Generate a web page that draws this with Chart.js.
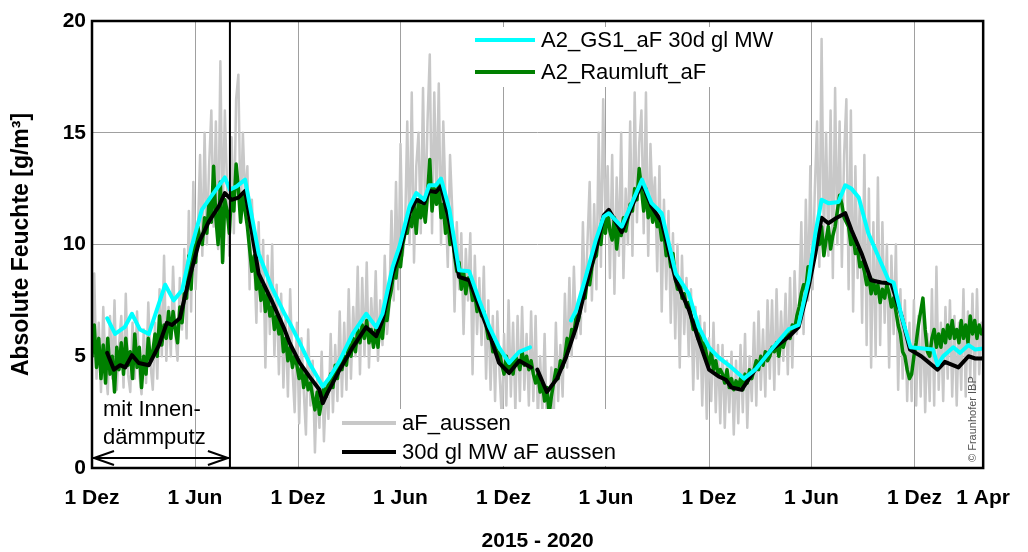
<!DOCTYPE html>
<html>
<head>
<meta charset="utf-8">
<script src="https://cdn.jsdelivr.net/npm/chart.js@4"></script>
<style>
  html, body { margin: 0; padding: 0; background: #fff; }
  canvas { display: block; }
</style>
</head>
<body>
<canvas id="chart" width="1028" height="552"></canvas>
<script>
// x axis = days since 1 Dez 2015
const dayTicks = [0, 183, 366, 548, 731, 913, 1096, 1278, 1461, 1583]
const tickLabels = ['1 Dez', '1 Jun', '1 Dez', '1 Jun', '1 Dez', '1 Jun', '1 Dez', '1 Jun', '1 Dez', '1 Apr']
const yTicks = [0, 5, 10, 15, 20]
const markerDay = 245   // Ende "mit Innendämmputz"

// daily-ish series are read every 4 days (day = i * 4)
const rawStep = 4

// aF_aussen
const grayVals = [
  5.0, 8.7, 4.0, 6.5, 3.4, 7.2, 4.5,
  3.3, 6.8, 4.0, 7.5, 3.5, 5.5, 6.8,
  3.6, 7.8, 4.2, 3.4, 6.5, 4.0, 7.0,
  4.2, 3.3, 6.2, 3.8, 7.4, 4.6, 3.5,
  6.5, 4.0, 8.0, 5.0, 9.5, 4.8, 7.2,
  5.0, 9.0, 6.0, 4.8, 8.5, 6.2, 9.8,
  5.8, 11.5, 7.0, 12.8, 8.0, 10.5, 14.0,
  9.5, 15.0, 10.0, 13.5, 16.0, 10.8, 15.5,
  9.8, 18.2, 11.0, 16.0, 12.5, 9.5, 14.8,
  10.5, 16.5, 17.6, 11.0, 15.0, 12.0, 13.5,
  8.0, 12.0, 9.5, 6.5, 11.0, 7.0, 10.2,
  4.5, 9.5, 6.0, 10.0, 5.0, 8.2, 4.2,
  7.8, 3.6, 6.8, 3.2, 8.0, 4.5, 2.5,
  6.5, 2.0, 5.8, 3.5, 1.5, 6.2, 2.8,
  4.8, 0.7, 4.0, 1.8, 5.2, 1.2, 3.8,
  2.2, 6.0, 2.5, 5.5, 3.0, 7.0, 3.2,
  6.5, 3.5, 8.0, 4.0, 7.2, 5.0, 9.0,
  4.2, 8.5, 5.0, 9.2, 4.5, 7.6, 5.5,
  8.8, 4.8, 7.5, 5.5, 9.5, 6.0, 7.2,
  11.5, 7.5, 12.8, 8.0, 14.5, 9.5, 10.5,
  15.5, 10.0, 16.8, 9.2, 13.5, 15.0, 10.5,
  17.0, 11.0, 15.5, 18.5, 10.5, 16.8, 12.0,
  17.2, 10.0, 15.5, 12.0, 9.0, 14.0, 11.5,
  7.0, 11.0, 8.0, 10.5, 6.0, 9.8, 7.5,
  10.5, 4.2, 9.5, 6.0, 8.5, 5.5, 9.0,
  4.0, 7.5, 3.5, 6.8, 3.0, 7.0, 4.2,
  2.2, 6.0, 2.8, 7.5, 3.2, 6.5, 2.5,
  6.8, 3.0, 7.2, 3.5, 6.0, 2.8, 7.0,
  3.0, 6.8, 2.2, 5.0, 2.5, 6.0, 1.8,
  1.5, 4.5, 2.0, 6.5, 3.0, 5.5, 3.2,
  7.8, 4.5, 8.5, 5.0, 9.0, 5.8, 7.5,
  6.0, 11.0, 7.0, 10.0, 12.8, 7.5, 11.8,
  8.0, 15.0, 9.0, 16.5, 11.0, 13.5, 8.5,
  14.0, 7.8, 13.0, 9.5, 15.0, 8.5, 12.5,
  10.0, 15.5, 9.5, 16.8, 11.0, 14.5, 16.0,
  10.5, 16.8, 9.5, 14.5, 11.5, 13.0, 8.8,
  13.5, 7.0, 12.0, 8.0, 11.5, 6.5, 10.5,
  5.8, 10.0, 4.5, 9.5, 6.0, 8.5, 5.0,
  8.0, 3.5, 7.2, 4.0, 6.8, 2.8, 6.5,
  2.2, 5.8, 3.0, 6.5, 2.5, 5.5, 2.0,
  5.5, 1.8, 4.8, 2.5, 5.2, 1.5, 4.8,
  2.0, 5.5, 2.5, 6.0, 1.8, 5.0, 3.0,
  6.5, 2.8, 7.0, 3.5, 6.2, 3.2, 7.5,
  4.0, 7.5, 3.5, 8.0, 4.2, 7.0, 4.8,
  7.8, 4.2, 8.5, 4.5, 8.8, 6.0, 7.2,
  11.0, 6.0, 12.0, 7.5, 13.5, 8.0, 12.5,
  15.5, 9.0, 19.2, 10.0, 15.0, 9.5, 16.0,
  8.5, 17.0, 10.0, 15.5, 9.0, 14.0, 16.5,
  8.0, 16.0, 7.0, 13.5, 8.5, 12.0, 6.5,
  14.0, 5.5, 12.5, 4.5, 11.0, 5.0, 13.0,
  5.5, 11.0, 6.5, 10.0, 4.5, 9.5, 6.0,
  10.0, 3.5, 8.0, 4.0, 7.5, 3.0, 6.5,
  3.0, 7.5, 2.8, 6.8, 3.2, 7.0, 2.5,
  6.0, 3.0, 8.0, 2.8, 9.0, 3.5, 6.5,
  3.0, 7.2, 4.0, 7.5, 3.2, 6.8, 2.8,
  6.5, 3.5, 8.0, 3.2, 7.0, 4.0, 7.8,
  3.5, 8.0, 4.2, 6.5
]

// A2_Raumluft_aF
const greenVals = [
  5.0, 6.4, 4.5, 5.8, 4.0, 5.5, 3.8,
  5.8, 4.2, 5.0, 3.4, 5.4, 4.4, 5.6,
  4.2, 5.8, 4.6, 5.2, 4.0, 6.0, 4.5,
  5.4, 3.6, 5.0, 4.2, 5.8, 4.8, 5.2,
  6.0, 5.0, 6.8, 5.5, 6.4, 5.8, 7.0,
  5.8, 7.0, 6.2, 5.6, 7.2, 6.5, 7.8,
  7.6, 9.5, 8.0, 10.0, 9.2, 10.8, 10.2,
  10.0, 11.2, 10.5, 12.0, 11.0, 13.5, 11.2,
  10.0, 12.8, 9.2, 12.0, 11.5, 10.5, 12.5,
  11.5, 13.6, 12.5, 11.0, 12.2, 11.5, 10.8,
  9.8, 8.8, 9.5, 8.0, 8.6, 7.5, 8.2,
  7.0, 7.8, 6.8, 7.2, 6.2, 6.8, 6.0,
  6.5, 5.2, 5.8, 4.8, 5.4, 4.5, 5.0,
  4.6, 4.0, 4.5, 3.6, 4.2, 3.5, 3.8,
  3.2, 2.6, 3.4, 2.4, 3.0, 3.6, 3.2,
  3.8, 4.2, 3.6, 4.6, 4.0, 4.8, 4.4,
  5.0, 4.6, 5.6, 5.0, 5.8, 5.2, 6.2,
  5.6, 6.4, 5.8, 6.6, 5.6, 6.2, 5.4,
  6.2, 5.4, 6.6, 5.8, 7.0, 6.6, 7.5,
  8.0, 8.8, 8.5, 9.5, 9.0, 10.0, 10.5,
  10.5, 11.2, 10.8, 11.8, 10.5, 12.0, 11.2,
  11.8, 11.0, 12.2, 13.8, 11.5, 12.5, 11.8,
  12.8, 11.2, 11.8, 10.5, 11.2, 10.0, 10.5,
  9.5, 8.8, 9.2, 8.0, 8.8, 7.8, 8.5,
  8.2, 7.5, 7.8, 7.0, 7.4, 6.8, 7.0,
  6.4, 5.8, 6.0, 5.2, 5.6, 5.0, 5.2,
  4.6, 4.2, 5.0, 4.4, 4.8, 4.2, 5.0,
  4.8, 4.4, 5.2, 4.6, 5.0, 4.4, 4.8,
  4.2, 3.8, 4.2, 3.4, 3.8, 3.0, 3.6,
  2.4, 3.2, 3.8, 4.4, 4.0, 4.8, 4.5,
  5.0, 5.8, 5.4, 6.2, 6.0, 6.8, 6.6,
  7.2, 8.0, 7.6, 8.5, 8.2, 9.0, 9.4,
  9.5, 10.5, 10.0, 11.2, 10.5, 11.5, 10.6,
  10.2, 11.2, 9.8, 10.8, 10.4, 11.2, 10.6,
  11.2, 11.8, 11.5, 12.5, 12.0, 13.4, 12.5,
  11.5, 12.5, 11.2, 11.8, 11.0, 11.6, 10.8,
  11.0, 10.2, 10.5, 9.5, 9.8, 9.0, 9.6,
  8.5, 8.0, 8.4, 7.6, 7.8, 7.2, 7.4,
  6.8, 6.2, 6.6, 5.8, 6.0, 5.4, 5.6,
  5.0, 4.6, 5.2, 4.4, 4.8, 4.2, 4.4,
  4.2, 3.8, 4.4, 3.6, 4.0, 3.5, 3.9,
  3.6, 4.0, 3.5, 4.2, 3.8, 4.4, 4.0,
  4.4, 4.8, 4.4, 5.0, 4.6, 5.2, 4.8,
  5.0, 5.4, 5.2, 5.6, 5.0, 5.8, 5.4,
  5.8, 6.0, 5.8, 6.4, 6.2, 6.8, 7.2,
  7.8, 8.2, 8.0, 9.0, 8.8, 9.6, 10.2,
  10.6, 10.0, 10.8, 9.5, 10.2, 10.8, 9.8,
  10.4, 10.8, 11.5, 12.2, 11.8, 11.2, 11.0,
  10.8, 10.0, 10.4, 9.6, 9.8, 9.0, 9.2,
  8.8, 8.2, 8.6, 7.8, 8.4, 7.8, 8.2,
  7.4, 8.0, 7.6, 8.2, 7.8, 7.2, 7.6,
  7.0, 6.4, 6.0, 5.2, 5.0, 4.4, 4.0,
  4.2, 5.0, 5.6, 6.4, 7.0, 7.6, 6.2,
  5.2, 5.0, 5.8, 6.2, 5.4, 6.0, 5.4,
  6.2, 5.6, 6.4, 5.8, 6.6, 5.8, 6.2,
  5.6, 6.6, 5.8, 6.4, 5.6, 6.8, 6.0,
  6.6, 5.8, 6.4, 6.0
]

// 30d gl MW aF aussen
const blackDays = [27, 39, 50, 59, 71, 83, 101, 119, 133, 142, 156, 172, 190, 207, 225, 236, 248, 260, 272, 296,
  319, 342, 351, 369, 386, 404, 410, 418, 440, 463, 487, 505, 516, 534, 546, 564, 576, 590, 599, 611,
  620, 635, 652, 670, 688, 706, 723, 741, 759, 780, 785, 791, 808, 826, 842, 860, 877, 895, 909, 918,
  941, 959, 977, 994, 1012, 1037, 1060, 1078, 1096, 1113, 1126, 1136, 1154, 1178, 1207, 1237, 1255, 1273, 1285, 1296,
  1308, 1323, 1338, 1349, 1367, 1384, 1402, 1420, 1438, 1453, 1473, 1502, 1515, 1539, 1557, 1569, 1583]
const blackVals = [5.15, 4.4, 4.6, 4.5, 5.05, 4.7, 4.6, 5.5, 6.5, 6.4, 6.7, 8.4, 10.1, 11.0, 11.7, 12.3, 12.0, 12.1, 12.4, 8.7,
  7.5, 6.2, 5.6, 4.7, 4.1, 3.5, 2.9, 3.35, 4.4, 5.4, 6.3, 5.9, 6.6, 8.7, 9.6, 11.4, 12.0, 11.85, 12.4, 12.35,
  12.6, 11.0, 8.55, 8.4, 7.2, 6.0, 4.7, 4.25, 4.8, 4.5, null, 4.4, 3.4, 4.0, 4.95, 6.3, 8.1, 9.75, 11.3, 11.55,
  10.55, 11.7, 12.75, 11.7, 11.0, 8.4, 7.1, 5.7, 4.4, 4.1, 3.95, 3.6, 3.5, 4.4, 5.3, 5.85, 6.3, 8.1, 9.6, 11.2,
  10.95, 11.2, 11.4, 10.65, 9.6, 8.4, 8.3, 8.25, 6.8, 5.3, 5.0, 4.4, 4.75, 4.5, 5.0, 4.9, 4.9]

// A2_GS1_aF 30d gl MW
const cyanDays = [27, 41, 58, 71, 85, 101, 130, 145, 160, 177, 195, 213, 236, 245, 257, 272, 296, 319, 342, 351,
  369, 386, 410, 422, 440, 463, 487, 505, 516, 534, 546, 564, 576, 590, 599, 611, 620, 635, 652, 670,
  688, 706, 723, 741, 759, 778, 800, 851, 860, 877, 895, 909, 918, 941, 959, 977, 994, 1012, 1037, 1060,
  1078, 1096, 1113, 1136, 1158, 1178, 1207, 1237, 1255, 1273, 1285, 1296, 1308, 1326, 1338, 1349, 1362, 1379, 1397, 1415,
  1424, 1438, 1454, 1494, 1502, 1512, 1530, 1542, 1557, 1569, 1583]
const cyanVals = [6.7, 6.0, 6.3, 6.9, 6.2, 6.0, 8.2, 7.5, 7.95, 9.9, 11.55, 12.2, 13.0, 12.45, 12.6, 12.9, 9.6, 8.1, 6.9, 6.5,
  5.6, 4.7, 3.65, 4.05, 4.8, 6.0, 6.9, 6.3, 6.9, 9.0, 9.9, 11.7, 12.3, 12.0, 12.65, 12.65, 12.95, 11.55, 8.85, 8.8,
  7.5, 6.3, 5.4, 4.7, 5.2, 5.4, null, 6.6, 7.05, 8.55, 10.2, 11.25, 11.4, 10.8, 11.85, 12.9, 11.85, 11.4, 8.7, 7.8,
  6.3, 5.4, 4.95, 4.5, 4.0, 4.4, 5.3, 6.2, 6.4, 8.4, 10.5, 12.0, 11.85, 11.9, 12.65, 12.5, 12.1, 10.5, 9.45, 8.4,
  8.3, 6.8, 5.4, 5.3, 4.6, 5.0, 5.4, 5.15, 5.5, 5.3, 5.35]

const FONT = "'Liberation Sans', Arial, sans-serif"

const stepped = (vals) => vals.map((v, i) => ({ x: i * rawStep, y: v }))
const paired = (days, vals) => days.map((d, i) => ({ x: d, y: vals[i] }))

// legend boxes, frame, marker line and notes
const extras = {
    id: 'extras',
    afterDatasetsDraw(chart) {
        const ctx = chart.ctx
        const { left, right, top, bottom } = chart.chartArea
        const xs = chart.scales.x
        const ys = chart.scales.y
        ctx.save()

        // vertical marker
        const mx = xs.getPixelForValue(markerDay)
        ctx.strokeStyle = '#000'
        ctx.lineWidth = 2
        ctx.beginPath()
        ctx.moveTo(mx, top)
        ctx.lineTo(mx, bottom)
        ctx.stroke()

        // double arrow
        const ay = ys.getPixelForValue(0.45)
        ctx.lineWidth = 2
        ctx.beginPath()
        ctx.moveTo(left, ay)
        ctx.lineTo(mx, ay)
        ctx.moveTo(left + 22, ay - 7)
        ctx.lineTo(left + 2, ay)
        ctx.lineTo(left + 22, ay + 7)
        ctx.moveTo(mx - 22, ay - 7)
        ctx.lineTo(mx - 2, ay)
        ctx.lineTo(mx - 22, ay + 7)
        ctx.stroke()

        ctx.fillStyle = '#000'
        ctx.font = '22px ' + FONT
        ctx.textAlign = 'left'
        ctx.textBaseline = 'alphabetic'
        ctx.fillText('mit Innen-', left + 11, 416)
        ctx.fillText('dämmputz', left + 11, 444)

        // top legend
        ctx.fillStyle = '#fff'
        ctx.fillRect(468, 27, 332, 60)
        const top1 = [['A2_GS1_aF 30d gl MW', 'rgb(0,255,255)', 40], ['A2_Raumluft_aF', 'rgb(0,128,0)', 72]]
        top1.forEach(([t, c, y]) => {
            ctx.strokeStyle = c
            ctx.lineWidth = 4
            ctx.beginPath()
            ctx.moveTo(475, y)
            ctx.lineTo(535, y)
            ctx.stroke()
            ctx.fillStyle = '#000'
            ctx.textBaseline = 'middle'
            ctx.fillText(t, 541, y + 1)
        })

        // bottom legend
        ctx.fillStyle = '#fff'
        ctx.fillRect(335, 409, 310, 57)
        const bot = [['aF_aussen', 'rgb(200,200,200)', 423], ['30d gl MW aF aussen', '#000', 452]]
        bot.forEach(([t, c, y]) => {
            ctx.strokeStyle = c
            ctx.lineWidth = 4
            ctx.beginPath()
            ctx.moveTo(342, y)
            ctx.lineTo(396, y)
            ctx.stroke()
            ctx.fillStyle = '#000'
            ctx.textBaseline = 'middle'
            ctx.fillText(t, 402, y + 1)
        })

        // copyright
        ctx.save()
        ctx.translate(right - 10, bottom - 6)
        ctx.rotate(-Math.PI / 2)
        ctx.fillStyle = '#555'
        ctx.font = '11px ' + FONT
        ctx.textAlign = 'left'
        ctx.textBaseline = 'middle'
        ctx.fillText('© Fraunhofer IBP', 0, 0)
        ctx.restore()

        // frame
        ctx.strokeStyle = '#000'
        ctx.lineWidth = 2.5
        ctx.strokeRect(left, top, right - left, bottom - top)
        ctx.restore()
    }
}

new Chart(document.getElementById('chart'), {
    type: 'line',
    data: {
        datasets: [
            {
                label: 'A2_GS1_aF 30d gl MW',
                data: paired(cyanDays, cyanVals),
                borderColor: 'rgb(0,255,255)',
                borderWidth: 4,
                order: 0
            },
            {
                label: '30d gl MW aF aussen',
                data: paired(blackDays, blackVals),
                borderColor: '#000',
                borderWidth: 4,
                order: 1
            },
            {
                label: 'A2_Raumluft_aF',
                data: stepped(greenVals),
                borderColor: 'rgb(0,128,0)',
                borderWidth: 3.5,
                order: 2
            },
            {
                label: 'aF_aussen',
                data: stepped(grayVals),
                borderColor: 'rgb(200,200,200)',
                borderWidth: 2.5,
                order: 3
            }
        ]
    },
    options: {
        responsive: false,
        animation: false,
        spanGaps: false,
        elements: {
            point: { radius: 0 },
            line: { tension: 0, borderJoinStyle: 'round', borderCapStyle: 'round' }
        },
        layout: { padding: { top: 21, right: 43, left: 0, bottom: 0 } },
        plugins: {
            legend: { display: false },
            tooltip: { enabled: false }
        },
        scales: {
            x: {
                type: 'linear',
                min: 0,
                max: 1583,
                afterBuildTicks: (scale) => { scale.ticks = dayTicks.map(v => ({ value: v })) },
                afterFit: (scale) => { scale.height = 84 },
                ticks: {
                    autoSkip: false,
                    maxRotation: 0,
                    padding: 18,
                    color: '#000',
                    font: { family: FONT, size: 21, weight: 'bold' },
                    callback: (v) => tickLabels[dayTicks.indexOf(v)]
                },
                grid: { color: '#a0a0a0', lineWidth: 1, drawTicks: false },
                border: { display: false },
                title: {
                    display: true,
                    text: '2015 - 2020',
                    color: '#000',
                    font: { family: FONT, size: 21, weight: 'bold', lineHeight: 1 },
                    padding: { top: 0, bottom: 0 }
                }
            },
            y: {
                min: 0,
                max: 20,
                afterBuildTicks: (scale) => { scale.ticks = yTicks.map(v => ({ value: v })) },
                afterFit: (scale) => { scale.width = 92 },
                ticks: {
                    padding: 6,
                    color: '#000',
                    font: { family: FONT, size: 21, weight: 'bold' }
                },
                grid: { color: '#a0a0a0', lineWidth: 1, drawTicks: false },
                border: { display: false },
                title: {
                    display: true,
                    text: 'Absolute Feuchte [g/m³]',
                    color: '#000',
                    font: { family: FONT, size: 23, weight: 'bold', lineHeight: 1 },
                    padding: { top: 10, bottom: 0 }
                }
            }
        }
    },
    plugins: [extras]
});
</script>
</body>
</html>
